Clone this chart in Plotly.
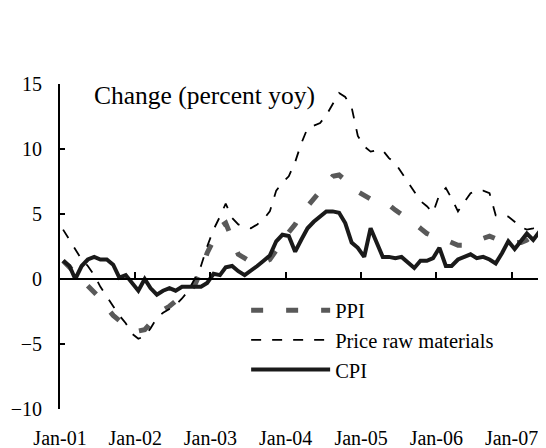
import pandas as pd
import plotly.graph_objects as go

# Monthly data, Jan-2001 .. Jun-2007 (percent change, year over year)
months = pd.date_range(start="2001-01-01", periods=78, freq="MS") + pd.Timedelta(days=15)

ppi = [1.4, 0.9, 0.4, -0.1, -0.6, -1.0, -1.5, -2.2, -2.8, -3.2, -3.5, -3.9,
       -4.0, -3.9, -3.4, -2.9, -2.4, -2.1, -1.7, -1.3, -0.9, -0.5, 0.6, 2.0,
       3.0, 4.0, 4.3, 3.0, 1.9, 1.6, 1.3, 1.2, 1.3, 1.5, 2.2, 3.0,
       3.6, 4.2, 5.0, 5.6, 6.2, 6.8, 7.3, 7.9, 8.0, 7.6, 7.0, 6.7,
       6.4, 6.1, 5.9, 5.8, 5.7, 5.3, 5.0, 4.7, 4.3, 3.9, 3.5, 3.3,
       3.2, 3.0, 2.8, 2.6, 2.6, 2.8, 3.0, 3.2, 3.3, 3.1, 2.9, 2.8,
       2.8, 2.8, 3.0, 3.4, 3.7, 4.0]

raw_materials = [3.8, 3.0, 2.3, 1.5, 1.0, 0.3, -0.6, -1.3, -2.1, -2.8, -3.4, -4.2,
                 -4.6, -4.4, -3.8, -3.0, -2.6, -2.3, -2.0, -1.5, -0.9, 0.0, 1.0, 2.5,
                 3.8, 4.8, 5.8, 4.7, 4.2, 4.0, 3.9, 4.2, 4.6, 5.2, 6.8, 7.4,
                 7.9, 9.0, 10.4, 11.6, 11.8, 12.0, 12.6, 13.5, 14.3, 14.0, 13.2, 11.0,
                 10.2, 9.8, 9.9, 9.9, 9.3, 8.9, 8.2, 7.5, 6.8, 6.0, 5.6, 5.1,
                 6.5, 7.0, 6.2, 5.2, 5.9, 6.6, 6.8, 6.8, 6.6, 4.9, 4.9, 4.8,
                 4.4, 4.0, 3.8, 3.9, 4.1, 4.6]

cpi = [1.4, 1.0, 0.0, 1.0, 1.5, 1.7, 1.5, 1.5, 1.1, 0.1, 0.3, -0.3,
       -0.9, 0.0, -0.7, -1.2, -0.9, -0.7, -0.9, -0.6, -0.6, -0.6, -0.6, -0.3,
       0.4, 0.3, 0.9, 1.0, 0.6, 0.3, 0.6, 1.0, 1.4, 1.8, 2.9, 3.4,
       3.3, 2.1, 3.0, 3.9, 4.4, 4.8, 5.2, 5.2, 5.1, 4.3, 2.8, 2.4,
       1.7, 3.9, 2.9, 1.7, 1.7, 1.6, 1.7, 1.3, 0.85, 1.4, 1.4, 1.6,
       2.4, 1.0, 1.0, 1.5, 1.7, 1.9, 1.6, 1.7, 1.5, 1.2, 2.0, 2.9,
       2.3, 2.9, 3.5, 3.0, 3.7, 4.3]

year_ticks = pd.date_range(start="2001-01-01", periods=7, freq="YS")
year_labels = ["Jan-01", "Jan-02", "Jan-03", "Jan-04", "Jan-05", "Jan-06", "Jan-07"]
y_ticks = [-10, -5, 0, 5, 10, 15]

FONT = "Liberation Serif"
x_range = ["2001-01-01", "2007-06-17"]

fig = go.Figure()
fig.add_trace(go.Scatter(x=months, y=ppi, name="PPI", mode="lines",
                         line=dict(color="#595959", width=5, dash="12px,23px")))
fig.add_trace(go.Scatter(x=months, y=raw_materials, name="Price raw materials", mode="lines",
                         line=dict(color="#000000", width=1.8, dash="10px,11px")))
fig.add_trace(go.Scatter(x=months, y=cpi, name="CPI", mode="lines",
                         line=dict(color="#1a1a1a", width=4)))
# carrier for the label axis
fig.add_trace(go.Scatter(x=[months[0]], y=[None], xaxis="x2", yaxis="y",
                         showlegend=False, hoverinfo="skip", mode="lines"))

# page body has an 8px margin: figure is sized to fit the 546x448 window
fig.update_layout(
    width=538, height=440,
    margin=dict(l=52, r=0, t=76, b=39, autoexpand=False),
    paper_bgcolor="white", plot_bgcolor="white",
    font=dict(family=FONT, size=20, color="black"),
    showlegend=True,
    legend=dict(x=0.383, y=0.365, xanchor="left", yanchor="top",
                bgcolor="rgba(0,0,0,0)", font=dict(family=FONT, size=20.5, color="black"),
                itemwidth=79, tracegroupgap=0),
    xaxis=dict(type="date", range=x_range, anchor="free", position=0.4,
               showline=True, linecolor="black", linewidth=2,
               ticks="inside", ticklen=6, tickwidth=1.5, tickcolor="black",
               tickmode="array", tickvals=list(year_ticks), showticklabels=False,
               showgrid=False, zeroline=False, automargin=False),
    xaxis2=dict(type="date", range=x_range, overlaying="x", anchor="y", side="bottom",
                showline=False, ticks="", tickmode="array", tickvals=list(year_ticks),
                ticktext=year_labels, showgrid=False, zeroline=False,
                tickfont=dict(family=FONT, size=20, color="black"),
                ticklabelstandoff=15, automargin=False),
    yaxis=dict(range=[-10, 15], tickmode="array", tickvals=y_ticks,
               showline=True, linecolor="black", linewidth=2,
               ticks="inside", ticklen=5, tickwidth=1.5, tickcolor="black",
               showgrid=False, zeroline=False,
               tickfont=dict(family=FONT, size=20, color="black"),
               ticklabelstandoff=12, automargin=False),
    annotations=[dict(text="Change (percent yoy)", xref="paper", yref="paper",
                      x=0.066, y=0.966, xanchor="left", yanchor="middle", showarrow=False,
                      font=dict(family=FONT, size=25.5, color="black"))],
)

fig.write_html("out.html")
